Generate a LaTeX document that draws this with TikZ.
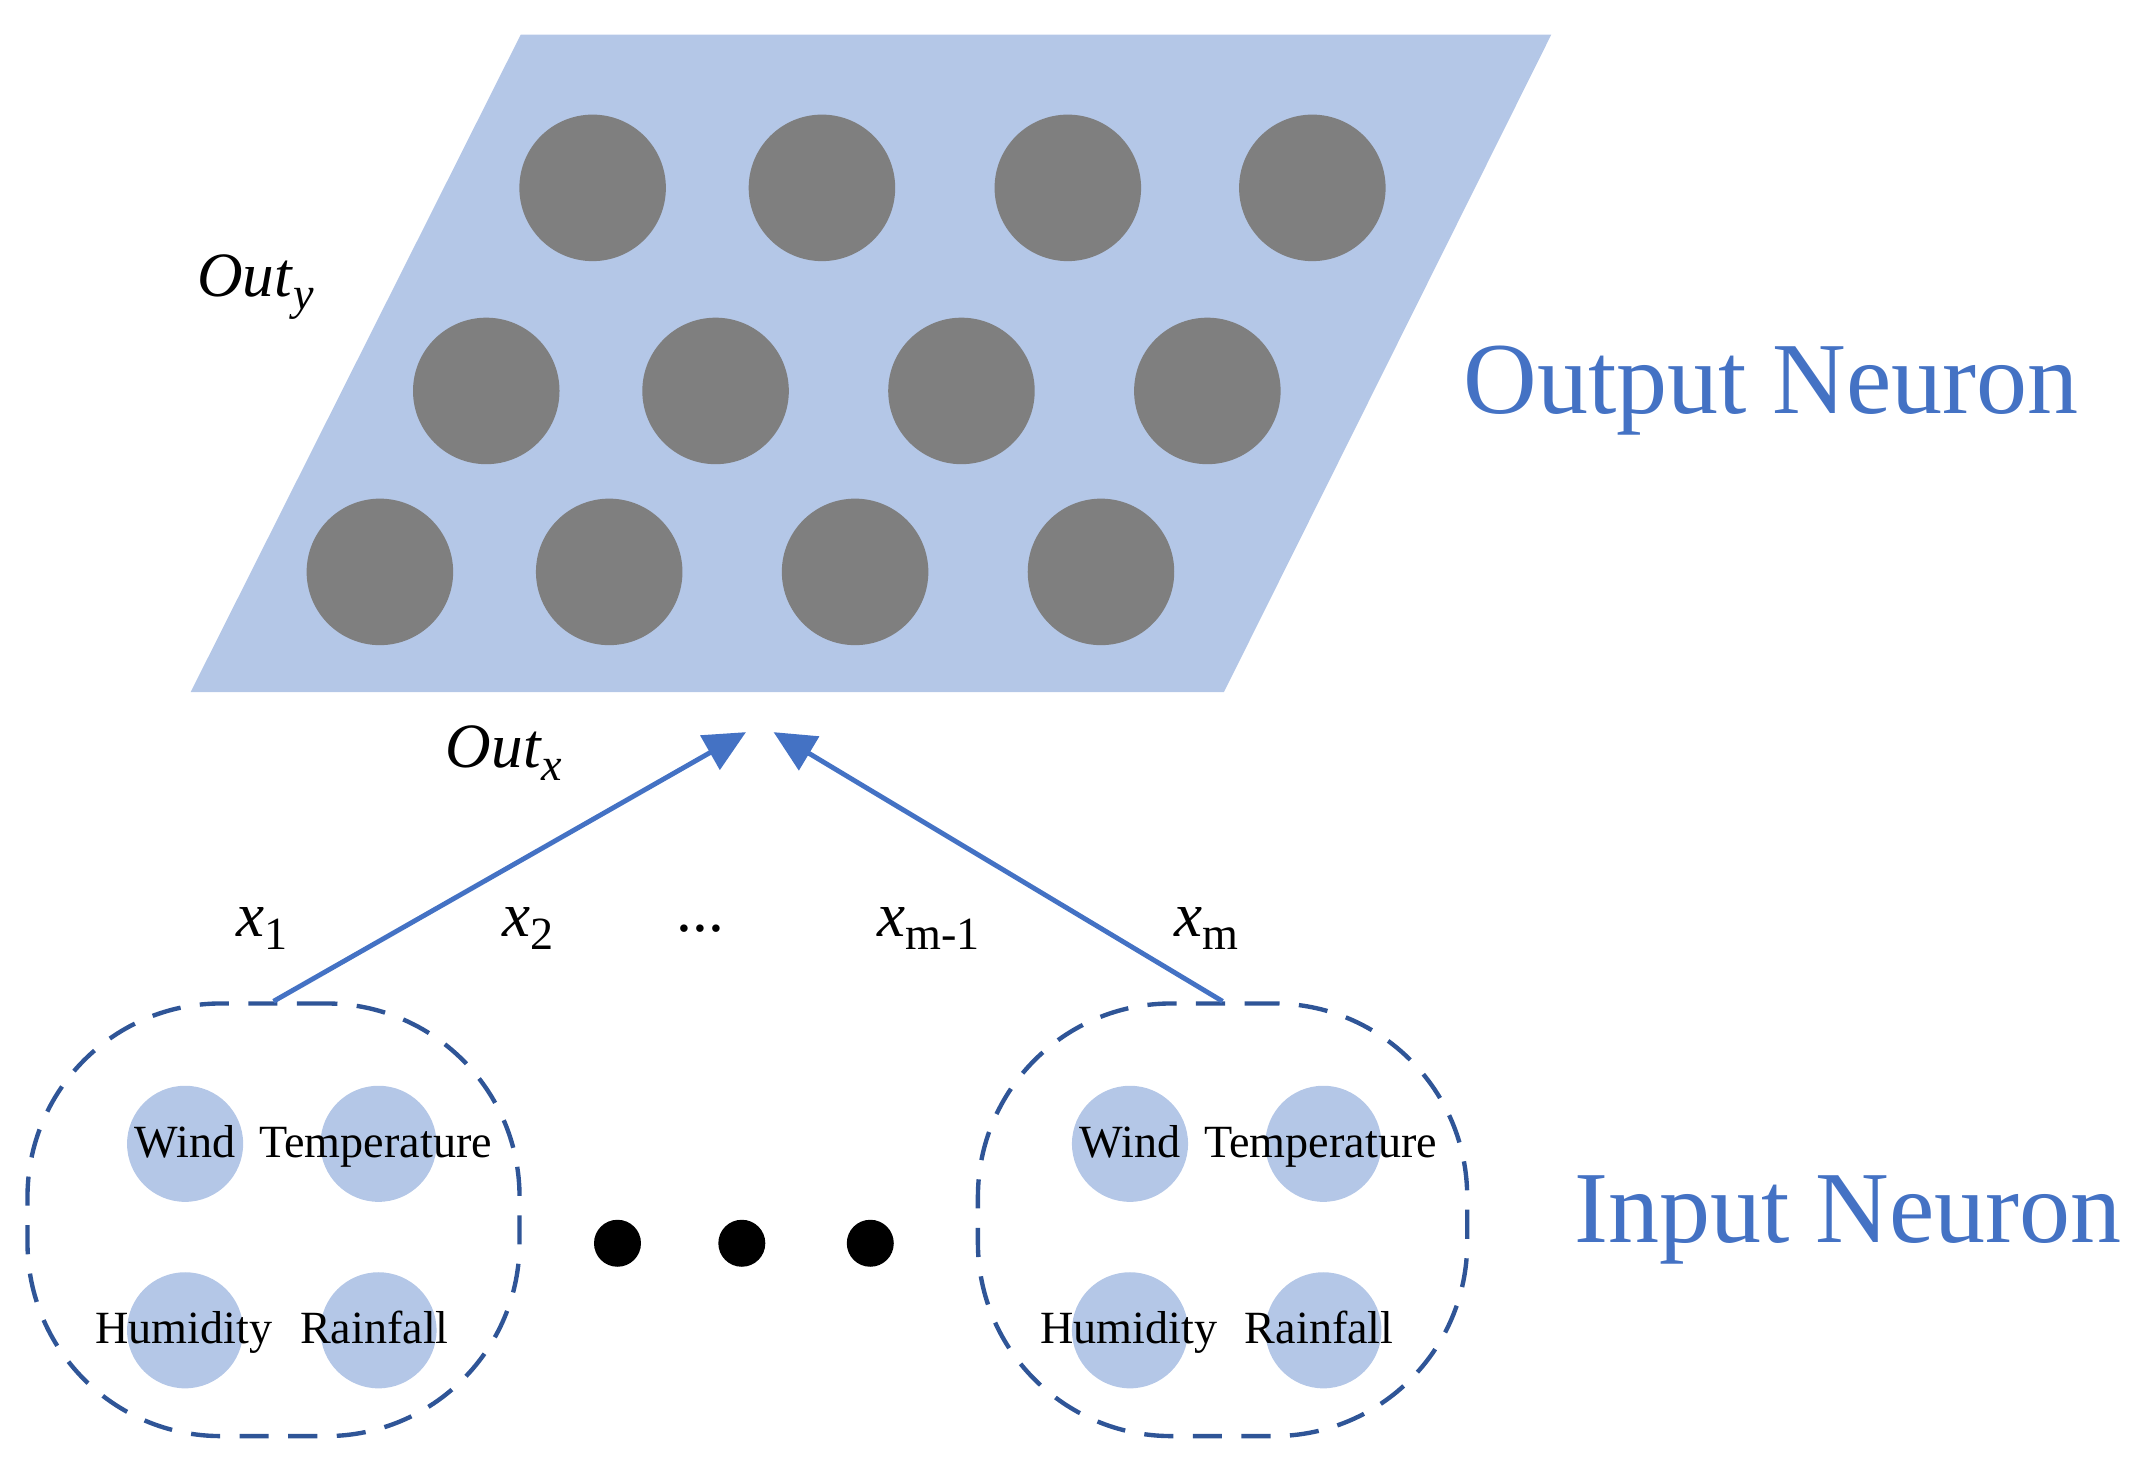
\documentclass[tikz,border=0pt]{standalone}
\usepackage{fontspec}
\setmainfont{Liberation Serif}
\usetikzlibrary{arrows.meta}
\definecolor{lb}{HTML}{B4C7E7}
\definecolor{gr}{HTML}{7F7F7F}
\definecolor{bl}{HTML}{4472C4}
\definecolor{db}{HTML}{2F5597}
\newcommand{\sbx}[1]{\raisebox{-0.45ex}{\fontsize{9.5}{10}\selectfont #1}}
\begin{document}
\begin{tikzpicture}[x=0.01cm,y=-0.01cm,
 outn/.style={circle,fill=gr,minimum size=1.06cm,inner sep=0},
 inn/.style={circle,fill=lb,minimum size=0.84cm,inner sep=0},
 dot/.style={circle,fill=black,minimum size=0.34cm,inner sep=0},
 grp/.style={draw=db,line width=0.9pt,dash pattern=on 6pt off 4pt,rounded corners=1.4cm},
 lab/.style={font=\fontsize{9.5}{10}\selectfont,inner sep=0,text height=1.6ex,text depth=0.4ex},
 xl/.style={font=\fontsize{13}{14}\selectfont,inner sep=0},
 big/.style={font=\fontsize{21}{22}\selectfont,text=bl,inner sep=0},
 arr/.style={draw=bl,line width=1pt,-{Triangle[length=0.3cm,width=0.28cm]}}]
\useasboundingbox (0,0) rectangle (1560,1061);
\fill[lb] (377,25) -- (1123,25) -- (886,501) -- (138,501) -- cycle;
\foreach \x [count=\i] in {429,595,773,950}{\node[outn] (a\i) at (\x,136) {};}
\foreach \x [count=\i] in {352,518,696,874}{\node[outn] (b\i) at (\x,283) {};}
\foreach \x [count=\i] in {275,441,619,797}{\node[outn] (c\i) at (\x,414) {};}
\node[xl] (oy) at (185,208) {\textit{Out}\sbx{\textit{y}}};
\node[xl] (ox) at (365,545) {\textit{Out}\sbx{\textit{x}}};
\node[big] (on) at (1282,283) {Output Neuron};
\node[big] (in) at (1338,883) {Input Neuron};
\node[grp,minimum width=3.56cm,minimum height=3.13cm] (g1) at (198,883) {};
\node[grp,minimum width=3.54cm,minimum height=3.13cm] (g2) at (885,883) {};
\foreach \dx/\n in {0/l,684/r}{
 \node[inn] (w\n) at (134+\dx,828) {};
 \node[inn] (t\n) at (274+\dx,828) {};
 \node[inn] (h\n) at (134+\dx,963) {};
 \node[inn] (r\n) at (274+\dx,963) {};
 \node[lab] at (134+\dx,828) {Wind};
 \node[lab] at (272+\dx,828) {Temperature};
 \node[lab] at (133+\dx,963) {Humidity};
 \node[lab] at (271+\dx,963) {Rainfall};
}
\node[dot] (d1) at (447,900) {};
\node[dot] (d2) at (537,900) {};
\node[dot] (d3) at (630,900) {};
\coordinate (t1) at (540,530);
\coordinate (t2) at (560,530);
\draw[arr] (g1.north) -- (t1);
\draw[arr] (g2.north) -- (t2);
\node[xl] at (190,672) {\textit{x}\sbx{1}};
\node[xl] at (382,672) {\textit{x}\sbx{2}};
\node[xl] at (507,672) {...};
\node[xl] at (672,672) {\textit{x}\sbx{m-1}};
\node[xl] at (873,672) {\textit{x}\sbx{m}};
\end{tikzpicture}
\end{document}
